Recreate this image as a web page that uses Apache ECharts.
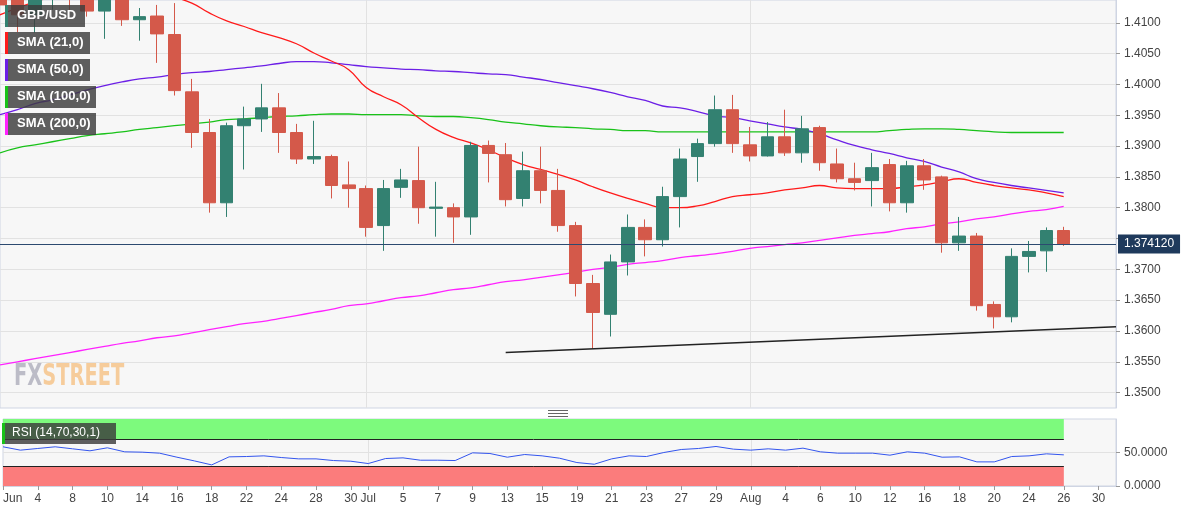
<!DOCTYPE html>
<html><head><meta charset="utf-8">
<script src="https://cdn.jsdelivr.net/npm/echarts@6/dist/echarts.min.js"></script>
<style>html,body{margin:0;padding:0;background:#fff}#c{width:1194px;height:513px}</style>
</head><body><div id="c"></div>
<script>
const categories = ['06-02','06-03','06-04','06-07','06-08','06-09','06-10','06-11','06-14','06-15','06-16','06-17','06-18','06-21','06-22','06-23','06-24','06-25','06-28','06-29','06-30',
'07-01','07-02','07-05','07-06','07-07','07-08','07-09','07-12','07-13','07-14','07-15','07-16','07-19','07-20','07-21','07-22','07-23','07-26','07-27','07-28','07-29','07-30',
'08-02','08-03','08-04','08-05','08-06','08-09','08-10','08-11','08-12','08-13','08-16','08-17','08-18','08-19','08-20','08-23','08-24','08-25','08-26','08-27','08-30','08-31'];
const tickCats = ['06-02','06-04','06-08','06-10','06-14','06-16','06-18','06-22','06-24','06-28','06-30','07-01','07-05','07-07','07-09','07-13','07-15','07-19','07-21','07-23','07-27','07-29','08-02','08-04','08-06','08-10','08-12','08-16','08-18','08-20','08-24','08-26','08-30'];
const tickTexts = ['Jun','4','8','10','14','16','18','22','24','28','30','Jul','5','7','9','13','15','19','21','23','27','29','Aug','4','6','10','12','16','18','20','24','26','30'];
const monthStarts = ['07-01','08-02'];
const opens  = [1.4145,1.4142,1.4113,1.4150,1.4162,1.4145,1.4119,1.4141,1.4105,1.4111,1.4081,1.3988,1.3922,1.3808,1.3933,1.3944,1.3962,1.3922,1.3879,1.3883,1.3837,1.3831,1.3771,1.3833,1.3844,1.3799,1.3800,1.3785,1.3901,1.3886,1.3815,1.3860,1.3828,1.3771,1.3677,1.3627,1.3712,1.3768,1.3748,1.3818,1.3883,1.3904,1.3959,1.3902,1.3884,1.3915,1.3889,1.3930,1.3871,1.3847,1.3844,1.3870,1.3808,1.3868,1.3850,1.3743,1.3754,1.3643,1.3623,1.3721,1.3730,1.3763];
const closes = [1.4129,1.4113,1.4150,1.4170,1.4145,1.4119,1.4141,1.4105,1.4110,1.4082,1.3990,1.3922,1.3808,1.3933,1.3944,1.3962,1.3922,1.3879,1.3883,1.3836,1.3831,1.3768,1.3831,1.3845,1.3800,1.3801,1.3785,1.3901,1.3888,1.3813,1.3860,1.3828,1.3771,1.3677,1.3630,1.3712,1.3768,1.3748,1.3818,1.3879,1.3904,1.3959,1.3904,1.3884,1.3915,1.3889,1.3928,1.3873,1.3847,1.3841,1.3865,1.3808,1.3868,1.3845,1.3743,1.3754,1.3641,1.3623,1.3721,1.3729,1.3763,1.37412];
const lows   = [1.4113,1.4085,1.4084,1.4121,1.4121,1.4110,1.4074,1.4095,1.4071,1.4035,1.3982,1.3897,1.3792,1.3785,1.3862,1.3923,1.3889,1.3871,1.3871,1.3815,1.3800,1.3753,1.3730,1.3816,1.3774,1.3753,1.3743,1.3756,1.3841,1.3802,1.3802,1.3807,1.3761,1.3656,1.3571,1.3591,1.3690,1.3721,1.3737,1.3768,1.3842,1.3899,1.3889,1.3875,1.3883,1.3884,1.3873,1.3860,1.3841,1.3828,1.3802,1.3794,1.3792,1.3829,1.3727,1.3730,1.3633,1.3604,1.3614,1.3695,1.3696,1.3738];
const highs  = [1.4162,1.4154,1.4162,1.4186,1.4178,1.4162,1.4154,1.4150,1.4124,1.4129,1.4132,1.4009,1.3944,1.3938,1.3964,1.4001,1.3986,1.3936,1.3941,1.3886,1.3875,1.3836,1.3845,1.3863,1.3899,1.3842,1.3807,1.3907,1.3909,1.3905,1.3891,1.3899,1.3863,1.3777,1.3691,1.3724,1.3789,1.3781,1.3834,1.3896,1.3912,1.3982,1.3983,1.3931,1.3939,1.3959,1.3949,1.3933,1.3896,1.3873,1.3889,1.3879,1.3876,1.3879,1.3852,1.3785,1.3759,1.3648,1.3734,1.3746,1.3768,1.3769];
const sma21 = [1.4113,1.4124,1.4134,1.4142,1.4147,1.4150,1.4150,1.4149,1.4147,1.4144,1.4141,1.4132,1.4116,1.4103,1.4094,1.4084,1.4076,1.4066,1.4051,1.4038,1.4024,1.3995,1.3980,1.3967,1.3946,1.3927,1.3914,1.3905,1.3894,1.3881,1.3870,1.3862,1.3854,1.3845,1.3834,1.3824,1.3815,1.3807,1.3800,1.3800,1.3803,1.3810,1.3818,1.3821,1.3824,1.3829,1.3832,1.3836,1.3832,1.3831,1.3831,1.3831,1.3834,1.3837,1.3842,1.3847,1.3841,1.3836,1.3832,1.3829,1.3824,1.3818];
const sma50 = [1.3951,1.3959,1.3969,1.3975,1.3983,1.3991,1.3998,1.4004,1.4009,1.4012,1.4016,1.4019,1.4021,1.4024,1.4027,1.4030,1.4034,1.4037,1.4037,1.4035,1.4032,1.4029,1.4027,1.4025,1.4024,1.4022,1.4021,1.4019,1.4017,1.4016,1.4012,1.4008,1.4003,1.3998,1.3993,1.3987,1.3980,1.3974,1.3965,1.3962,1.3956,1.3949,1.3946,1.3941,1.3936,1.3931,1.3927,1.3920,1.3910,1.3901,1.3894,1.3888,1.3881,1.3875,1.3866,1.3858,1.3847,1.3841,1.3836,1.3832,1.3828,1.3824];
const sma100 = [1.3889,1.3897,1.3902,1.3907,1.3912,1.3917,1.3920,1.3923,1.3927,1.3930,1.3933,1.3936,1.3939,1.3943,1.3944,1.3946,1.3948,1.3949,1.3951,1.3952,1.3952,1.3951,1.3951,1.3951,1.3949,1.3948,1.3948,1.3946,1.3943,1.3939,1.3936,1.3933,1.3931,1.3930,1.3928,1.3927,1.3925,1.3925,1.3923,1.3923,1.3923,1.3923,1.3923,1.3923,1.3923,1.3923,1.3923,1.3923,1.3923,1.3923,1.3923,1.3925,1.3927,1.3928,1.3928,1.3927,1.3925,1.3923,1.3922,1.3922,1.3922,1.3922];
const sma200 = [1.3545,1.3550,1.3555,1.3560,1.3565,1.3570,1.3575,1.3580,1.3584,1.3589,1.3592,1.3597,1.3602,1.3607,1.3612,1.3615,1.3620,1.3625,1.3630,1.3635,1.3641,1.3644,1.3649,1.3654,1.3657,1.3662,1.3667,1.3670,1.3675,1.3680,1.3683,1.3687,1.3691,1.3695,1.3700,1.3703,1.3708,1.3711,1.3714,1.3719,1.3722,1.3725,1.3729,1.3734,1.3737,1.3740,1.3743,1.3747,1.3751,1.3755,1.3758,1.3761,1.3766,1.3769,1.3774,1.3777,1.3782,1.3785,1.3790,1.3794,1.3797,1.3802];
const rsi = [58.5,53.5,56,58.5,55.5,52.5,57,51,50.5,49,43,37.5,31.5,43.5,44,45,42.5,40.5,40.5,38,37,33.5,41,42,38.5,38.5,38,49.5,48.5,43,47,45,41.5,35,32.5,40.5,45,44,50,54.5,56,59,55,53.5,55.5,53.5,56.5,51,49,49,49,46,51,49,43,43.5,36,36,44,45,48,46.5];
const yTicks = [1.35,1.355,1.36,1.365,1.37,1.375,1.38,1.385,1.39,1.395,1.40,1.405,1.41];
const yLabels = [1.35,1.355,1.36,1.365,1.37,1.38,1.385,1.39,1.395,1.40,1.405,1.41];
const lastPrice = 1.37412;
const trendStart = ['07-13', 1.3565], trendEnd = ['08-31', 1.3607];

const candles = opens.map((o,i)=>[o,closes[i],lows[i],highs[i]]);
const ch = echarts.init(document.getElementById('c'));
const tickIdx = (i,v)=>tickCats.indexOf(v)>=0;
const font = 'Liberation Sans, Arial, sans-serif';
const smaLine = (name,data,color)=>({name,type:'line',data,xAxisIndex:0,yAxisIndex:0,symbol:'none',smooth:true,lineStyle:{color,width:1.3},z:3,silent:true});
const box = (y,w,txt,col)=>[
 {type:'rect',left:5,top:y,shape:{width:w,height:22},style:{fill:'rgba(60,60,60,0.82)'},z:100},
 {type:'rect',left:5,top:y,shape:{width:3,height:22},style:{fill:col},z:101},
 {type:'text',left:17,top:y+4,style:{text:txt,fill:'#fff',font:'bold 13px '+font},z:102}];
const s21 = smaLine('SMA21',sma21,'#ff1a1a');
const lastCat = categories[categories.length-1];
s21.markLine = {symbol:'none',silent:true,animation:false,precision:6,data:[
  [{coord:[categories[0],lastPrice],lineStyle:{color:'#2c4a70',width:1,type:'solid'},
    label:{show:true,position:'end',formatter:()=>lastPrice.toFixed(6),backgroundColor:'#1f3a5c',color:'#fff',fontSize:12,fontFamily:font,padding:[4,6,3,6],distance:2}},
   {coord:[lastCat,lastPrice]}],
  [{coord:trendStart,lineStyle:{color:'#222',width:1.5,type:'solid'},label:{show:false}},{coord:trendEnd}]]};
ch.setOption({
 animation:false,
 backgroundColor:'#fff',
 grid:[{left:0,right:78,top:0,height:408,show:true,backgroundColor:'#f7f7f7',borderColor:'#cfd5e3'},
       {left:0,right:78,top:419,height:67,show:true,backgroundColor:'#f7f7f7',borderColor:'#cfd5e3'}],
 xAxis:[{type:'category',gridIndex:0,data:categories,boundaryGap:false,axisLabel:{show:false},axisTick:{show:false},axisLine:{show:false},
         splitLine:{show:true,interval:(i,v)=>monthStarts.indexOf(v)>=0,lineStyle:{color:'#e2e2e2'}}},
        {type:'category',gridIndex:1,data:categories,boundaryGap:false,axisLine:{lineStyle:{color:'#cfd5e3'}},
         axisTick:{interval:tickIdx,length:4,lineStyle:{color:'#999'}},
         axisLabel:{interval:tickIdx,formatter:v=>tickTexts[tickCats.indexOf(v)],color:'#444',fontSize:12,fontFamily:font,margin:7,alignMinLabel:'left',hideOverlap:false},
         splitLine:{show:true,interval:(i,v)=>monthStarts.indexOf(v)>=0,lineStyle:{color:'#e2e2e2'}}}],
 yAxis:[{type:'value',gridIndex:0,position:'right',min:1.3475,max:1.4137,
         axisLine:{show:true,lineStyle:{color:'#cfd5e3'}},
         axisTick:{show:true,length:4,customValues:yTicks,lineStyle:{color:'#999'}},
         axisLabel:{customValues:yLabels,formatter:v=>v.toFixed(4),color:'#444',fontSize:12,fontFamily:font,margin:8},
         splitLine:{show:true,lineStyle:{color:'#e2e2e2'}}},
        {type:'value',gridIndex:1,position:'right',min:0,max:100,
         axisLine:{show:true,lineStyle:{color:'#cfd5e3'}},
         axisTick:{show:true,length:4,customValues:[0,50],lineStyle:{color:'#999'}},
         axisLabel:{customValues:[0,50],formatter:v=>v.toFixed(4),color:'#444',fontSize:12,fontFamily:font,margin:8},
         splitLine:{show:true,lineStyle:{color:'#e2e2e2'}}}],
 series:[
  smaLine('SMA200',sma200,'#ff22ff'),
  smaLine('SMA100',sma100,'#19c219'),
  smaLine('SMA50',sma50,'#6c1fe6'),
  s21,
  {name:'GBP/USD',type:'candlestick',data:candles,barWidth:13,z:4,
   itemStyle:{color:'#338171',color0:'#d4594a',borderColor:'#338171',borderColor0:'#d4594a',borderWidth:1}},
  {name:'RSI',type:'line',xAxisIndex:1,yAxisIndex:1,data:rsi,symbol:'none',lineStyle:{color:'#3355ee',width:1},z:5,
   markArea:{silent:true,data:[
     [{xAxis:categories[0],yAxis:70,itemStyle:{color:'#7dfa7d'}},{xAxis:categories[61],yAxis:100}],
     [{xAxis:categories[0],yAxis:0,itemStyle:{color:'#fb7c7c'}},{xAxis:categories[61],yAxis:30}]]},
   markLine:{symbol:'none',silent:true,label:{show:false},lineStyle:{color:'#222',width:1,type:'solid'},data:[
     [{coord:[categories[0],70]},{coord:[categories[61],70]}],
     [{coord:[categories[0],30]},{coord:[categories[61],30]}]]}}
 ],
 graphic:[
  ...box(5,80,'GBP/USD','#338171'),
  ...box(32,85,'SMA (21,0)','#ff1a1a'),
  ...box(59,85,'SMA (50,0)','#6c1fe6'),
  ...box(86,91,'SMA (100,0)','#19c219'),
  ...box(113,91,'SMA (200,0)','#ff22ff'),
  {type:'rect',left:2,top:423,shape:{width:114,height:21},style:{fill:'rgba(60,60,60,0.82)'},z:100},
  {type:'rect',left:2,top:423,shape:{width:3,height:21},style:{fill:'#19c219'},z:101},
  {type:'text',left:12,top:427,style:{text:'RSI (14,70,30,1)',fill:'#fff',font:'12px '+font},z:102},
  {type:'text',x:14,y:362,scaleX:0.72,style:{text:'{a|FX}{b|STREET}',rich:{a:{fill:'rgba(140,140,160,0.55)',font:'bold 30px "DejaVu Sans Condensed", sans-serif'},b:{fill:'rgba(245,170,80,0.55)',font:'bold 30px "DejaVu Sans Condensed", sans-serif'}}},z:1},
  {type:'rect',left:548,top:410,shape:{width:20,height:1},style:{fill:'#666'},z:50},
  {type:'rect',left:548,top:413,shape:{width:20,height:1},style:{fill:'#666'},z:50},
  {type:'rect',left:548,top:416,shape:{width:20,height:1},style:{fill:'#666'},z:50}
 ]
});
</script></body></html>
